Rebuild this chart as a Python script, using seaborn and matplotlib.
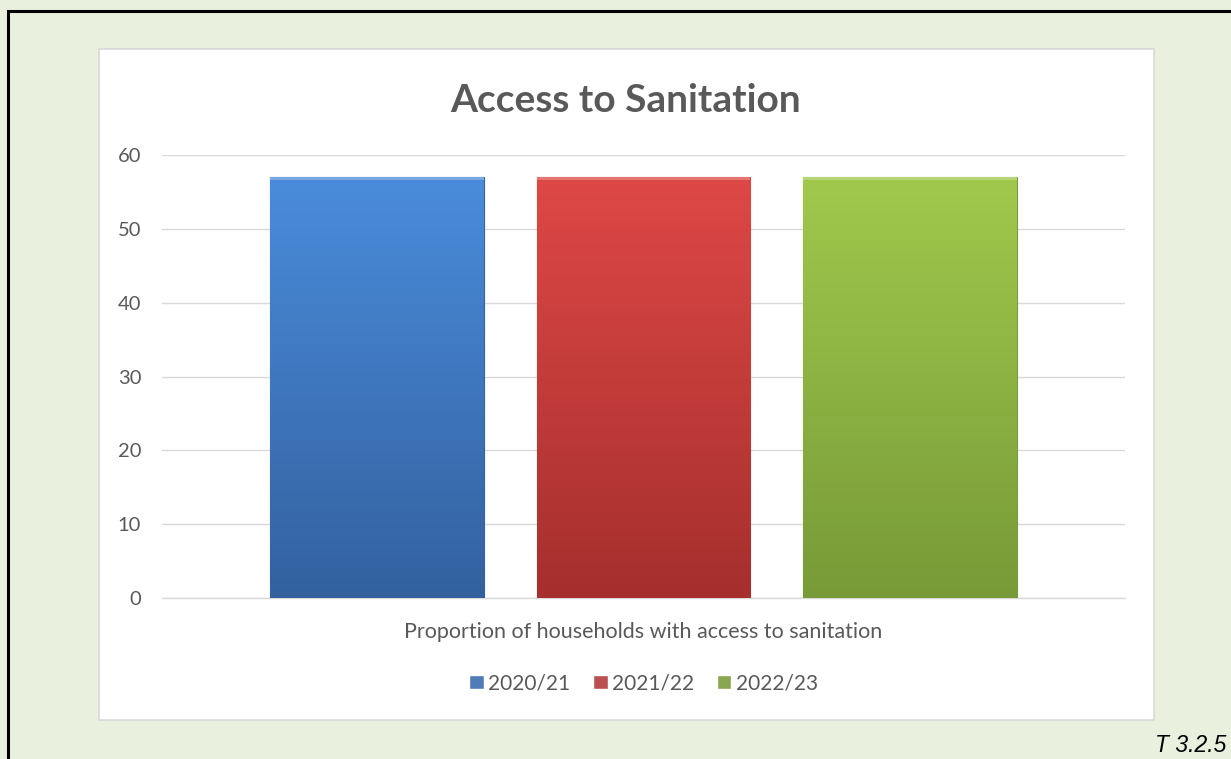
import numpy as np
import pandas as pd
import matplotlib
matplotlib.use("Agg")
import matplotlib.pyplot as plt
from matplotlib.patches import Rectangle
from matplotlib.colors import LinearSegmentedColormap
import seaborn as sns

# Data
category = ["Proportion of households with access to sanitation"]
years = ["2020/21", "2021/22", "2022/23"]
values = [57, 57, 57]
yticks = [0, 10, 20, 30, 40, 50, 60]

top_colors = ["#4A8CDB", "#DE4846", "#A0C94C"]
bottom_colors = ["#33619F", "#A52F2D", "#789A38"]
mid_colors = ["#3F7BC8", "#CC3F3D", "#8DB443"]

df = pd.DataFrame({"category": category * len(years), "year": years, "value": values})

sns.set_theme(style="white")
plt.rcParams["font.family"] = ["Lato", "DejaVu Sans"]

fig = plt.figure(figsize=(12.31, 7.59), dpi=100)
fig.patch.set_facecolor("#E9F0DD")

# Outer black frame and white chart box (behind the axes)
fig.add_artist(Rectangle((8 / 1231, -0.1), 1.2, 1 - 11 / 759 + 0.1, transform=fig.transFigure,
                         fill=False, edgecolor="black", linewidth=2.2, zorder=-2))
fig.add_artist(Rectangle((99 / 1231, 1 - 720 / 759), (1154 - 99) / 1231, (720 - 49) / 759,
                         transform=fig.transFigure, facecolor="white", edgecolor="#D9D9D9",
                         linewidth=1.2, zorder=-1))

ax = fig.add_axes([162 / 1231, 1 - 598 / 759, (1125 - 162) / 1231, (598 - 155) / 759])
ax.set_facecolor("none")
ax.set_zorder(1)

sns.barplot(data=df, x="category", y="value", hue="year", palette=mid_colors,
            width=0.83, gap=0.2, ax=ax, legend=True, zorder=3)

ax.set_ylim(0, 60)
ax.set_yticks(yticks)
ax.set_yticklabels([str(t) for t in yticks], color="#595959", fontsize=14.5)
ax.yaxis.grid(True, color="#D9D9D9", linewidth=1)
ax.set_axisbelow(True)
for s in ["top", "right", "left"]:
    ax.spines[s].set_visible(False)
ax.spines["bottom"].set_color("#D9D9D9")
ax.spines["bottom"].set_linewidth(1)
ax.tick_params(axis="y", length=0, pad=15)
ax.tick_params(axis="x", length=0, pad=17)
ax.set_xticks([0])
ax.set_xticklabels(category, color="#595959", fontsize=15.5)
ax.set_xlabel("")
ax.set_ylabel("")

# Vertical gradient fill on each bar
for i, patch in enumerate(ax.patches[:len(years)]):
    x0, y0 = patch.get_x(), patch.get_y()
    w, h = patch.get_width(), patch.get_height()
    cmap = LinearSegmentedColormap.from_list("g", [bottom_colors[i], top_colors[i]])
    grad = np.linspace(0, 1, 256).reshape(-1, 1)
    im = ax.imshow(grad, cmap=cmap, origin="lower", aspect="auto",
                   extent=[x0, x0 + w, y0, y0 + h], zorder=3.5)
    im.set_clip_path(patch)
    patch.set_edgecolor(bottom_colors[i])
    patch.set_linewidth(0.8)
    # light bevel along the top edge
    ax.add_patch(Rectangle((x0, y0 + h - 0.45), w, 0.45, facecolor="white", alpha=0.25,
                           edgecolor="none", zorder=4))
ax.set_xlim(-0.5, 0.5)
ax.set_ylim(0, 60)

leg = ax.legend(loc="upper center", bbox_to_anchor=(0.5, -0.128), ncol=3, frameon=False,
                fontsize=15, handlelength=0.7, handleheight=0.7, handletextpad=0.2,
                columnspacing=1.1)
for t in leg.get_texts():
    t.set_color("#595959")

fig.text(0.5 * (99 + 1153) / 1231, 1 - 100 / 759, "Access to Sanitation", ha="center", va="center",
         fontsize=28, fontweight="bold", color="#595959")
fig.text(1155 / 1231, 1 - 745 / 759, "T 3.2.5", ha="left", va="center", fontsize=16.5,
         style="italic", color="black", family=["Liberation Sans", "DejaVu Sans"])

fig.savefig("out.png", dpi=100, facecolor=fig.get_facecolor())
